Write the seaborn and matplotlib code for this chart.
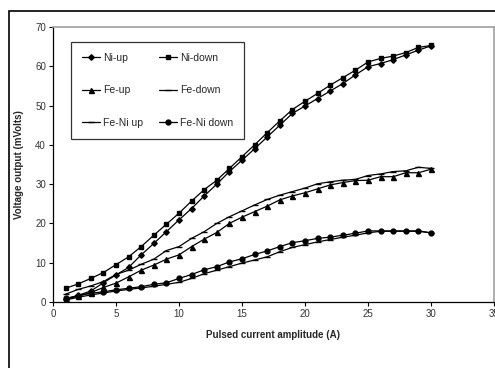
import matplotlib
matplotlib.use("Agg")
import matplotlib.pyplot as plt
from matplotlib.patches import Rectangle
import seaborn as sns
import pandas as pd

current = list(range(1, 31))

ni_up = [0.8, 1.7, 2.8, 4.9, 6.9, 8.8, 12.0, 14.9, 17.9, 20.9, 23.8, 27.0, 30.0, 33.2, 36.1,
         39.0, 42.0, 45.0, 48.0, 49.9, 51.8, 53.7, 55.6, 57.8, 59.9, 60.7, 61.7, 62.9, 64.1, 65.2]
ni_down = [3.5, 4.6, 6.0, 7.5, 9.5, 11.5, 14.1, 17.0, 19.8, 22.6, 25.7, 28.6, 31.0, 34.0, 37.0,
           40.0, 43.1, 46.1, 49.0, 51.1, 53.1, 55.2, 57.1, 59.0, 61.1, 62.0, 62.6, 63.5, 64.8, 65.3]
fe_up = [0.7, 1.5, 2.4, 3.7, 4.8, 6.4, 8.1, 9.4, 10.9, 12.0, 14.1, 16.0, 17.7, 20.0, 21.6,
         23.0, 24.4, 26.0, 27.0, 27.8, 28.8, 29.8, 30.4, 30.9, 31.0, 31.9, 31.9, 32.9, 32.9, 33.8]
fe_down = [2.0, 3.2, 4.1, 5.2, 7.0, 8.1, 9.6, 10.9, 13.1, 14.1, 16.2, 17.9, 20.0, 21.7, 23.2,
           24.7, 26.1, 27.2, 28.1, 29.0, 30.1, 30.6, 31.0, 31.2, 32.2, 32.6, 33.2, 33.4, 34.3, 34.0]
feni_up = [0.5, 1.2, 1.8, 2.3, 2.8, 3.2, 3.6, 4.0, 4.5, 5.0, 6.0, 7.2, 8.1, 9.0, 9.9,
           10.7, 11.5, 12.8, 13.9, 14.6, 15.3, 15.9, 16.5, 17.0, 17.6, 18.0, 18.0, 18.0, 18.0, 17.6]
feni_down = [0.9, 1.6, 2.2, 2.6, 3.1, 3.5, 3.9, 4.5, 4.9, 6.0, 7.0, 8.2, 9.0, 10.2, 11.0,
             12.1, 13.0, 14.1, 15.1, 15.6, 16.2, 16.5, 17.0, 17.5, 18.1, 18.1, 18.1, 18.1, 18.1, 17.6]

series = [
    ("Ni-up", ni_up, "D", 2.8),
    ("Fe-up", fe_up, "^", 3.6),
    ("Fe-Ni up", feni_up, "_", 4),
    ("Ni-down", ni_down, "s", 3.5),
    ("Fe-down", fe_down, "_", 4),
    ("Fe-Ni down", feni_down, "o", 3.5),
]

sns.set_theme(style="white")
plt.rcParams["font.family"] = ["Liberation Sans", "DejaVu Sans"]

fig = plt.figure(figsize=(4.95, 3.68), dpi=100)
ax = fig.add_axes([53 / 495, 1 - 302 / 368, (494 - 53) / 495, (302 - 27) / 368])

for name, vals, mk, ms in series:
    df = pd.DataFrame({"x": current, "y": vals})
    sns.lineplot(data=df, x="x", y="y", ax=ax, color="black", linewidth=0.9,
                 marker=mk, markersize=ms, markeredgecolor="black",
                 markerfacecolor="black", markeredgewidth=1.0, label=name)

ax.set_xlim(0, 35)
ax.set_ylim(0, 70)
ax.set_xticks(range(0, 36, 5))
ax.set_yticks(range(0, 71, 10))
ax.tick_params(axis="both", labelsize=7, colors="black", direction="out",
               length=3, width=0.8, pad=2, labelcolor="#333333")
ax.tick_params(bottom=True, left=True)
for s in ["top", "right"]:
    ax.spines[s].set_color("#a0a0a0")
    ax.spines[s].set_linewidth(1.2)
for s in ["left", "bottom"]:
    ax.spines[s].set_color("black")
    ax.spines[s].set_linewidth(0.9)

ax.set_xlabel("Pulsed current amplitude (A)", fontsize=7, fontweight="bold", labelpad=8)
ax.set_ylabel("Voltage output (mVolts)", fontsize=7, fontweight="bold", labelpad=8)

handles, labels = ax.get_legend_handles_labels()
leg = ax.legend(handles, labels, ncol=2, loc="upper left",
                bbox_to_anchor=((71 - 53) / 441, (302 - 42) / 275),
                borderaxespad=0,
                fontsize=7.5, frameon=True, fancybox=False, edgecolor="black",
                handlelength=1.7, labelspacing=2.15, columnspacing=1.6,
                borderpad=1.05, handletextpad=0.3)
leg.get_frame().set_linewidth(0.9)

fig.add_artist(Rectangle((9 / 495, -0.1), 1.2, 1 - 11 / 368 + 0.1,
                         transform=fig.transFigure, fill=False,
                         edgecolor="black", linewidth=1.2))

fig.savefig("out.png", dpi=100)
